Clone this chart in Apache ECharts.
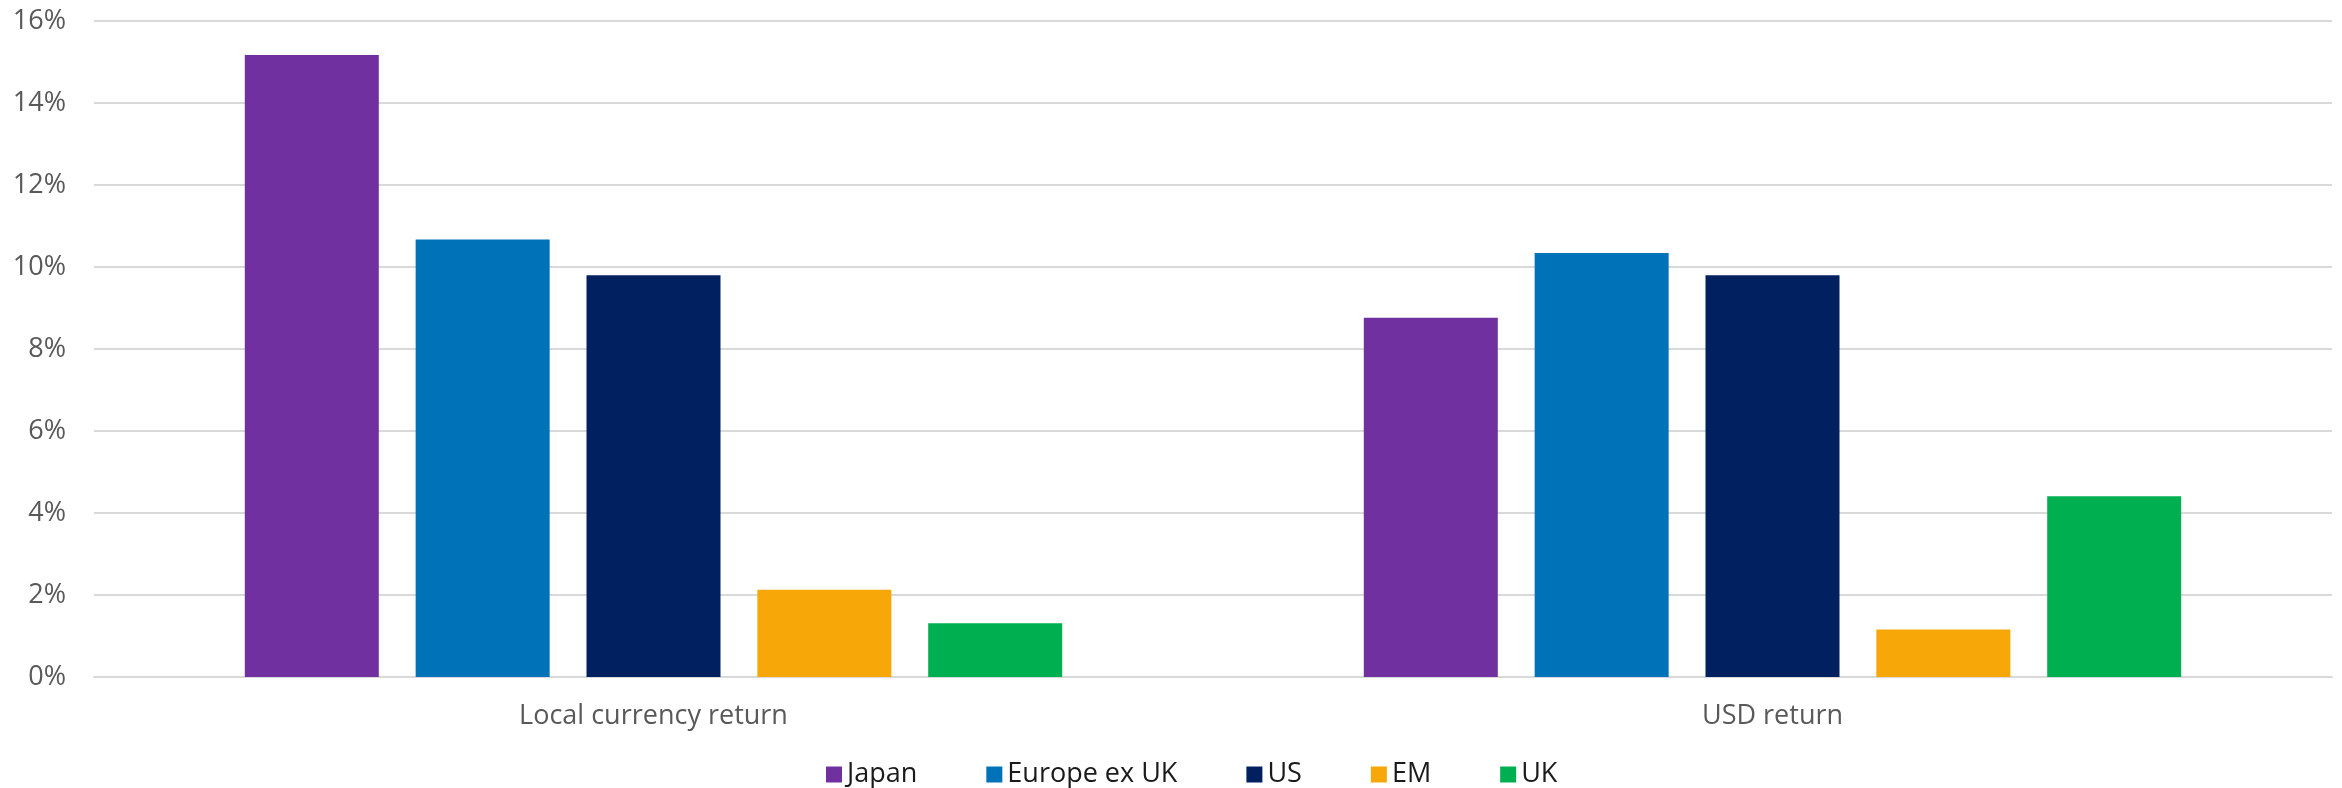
<!DOCTYPE html>
<html>
<head>
<meta charset="utf-8">
<script src="https://cdn.jsdelivr.net/npm/echarts@6/dist/echarts.min.js"></script>
<style>
html,body{margin:0;padding:0;background:#fff;}
#chart{width:2342px;height:788px;}
</style>
</head>
<body>
<div id="chart"></div>
<script>
const categories = ['Local currency return', 'USD return'];
const seriesNames = ['Japan', 'Europe ex UK', 'US', 'EM', 'UK'];
const japan = [15.17, 8.76];
const europeExUK = [10.67, 10.34];
const us = [9.80, 9.80];
const em = [2.13, 1.16];
const uk = [1.31, 4.41];
const yTicks = [0, 2, 4, 6, 8, 10, 12, 14, 16];

const seriesData = [japan, europeExUK, us, em, uk];
const colors = ['#7030A0', '#0072B7', '#002060', '#F7A707', '#00AF50'];
const font = '"Open Sans", "Noto Sans", sans-serif';

const chart = echarts.init(document.getElementById('chart'), null, {renderer: 'canvas'});
chart.setOption({
  animation: false,
  backgroundColor: '#ffffff',
  color: colors,
  grid: {left: 94, right: 10, top: 21, bottom: 111, containLabel: false},
  legend: {
    data: seriesNames,
    top: 761,
    left: 826,
    padding: 0,
    icon: 'rect',
    itemWidth: 16,
    itemHeight: 16,
    itemGap: 69,
    textStyle: {fontFamily: font, fontSize: 27, color: '#1a1a1a'}
  },
  xAxis: {
    type: 'category',
    data: categories,
    axisLine: {show: true, lineStyle: {color: '#d9d9d9', width: 2}},
    axisTick: {show: false},
    axisLabel: {fontFamily: font, fontSize: 27, color: '#595959', margin: 26}
  },
  yAxis: {
    type: 'value',
    min: yTicks[0],
    max: yTicks[yTicks.length - 1],
    interval: 2,
    axisLine: {show: false},
    axisTick: {show: false},
    axisLabel: {fontFamily: font, fontSize: 27, color: '#595959', margin: 28, formatter: '{value}%'},
    splitLine: {show: true, lineStyle: {color: '#d9d9d9', width: 2}}
  },
  series: seriesNames.map((name, i) => ({
    name: name,
    type: 'bar',
    data: seriesData[i],
    barWidth: 134,
    barGap: '27.5%',
    itemStyle: {color: colors[i]}
  }))
});
</script>
</body>
</html>
